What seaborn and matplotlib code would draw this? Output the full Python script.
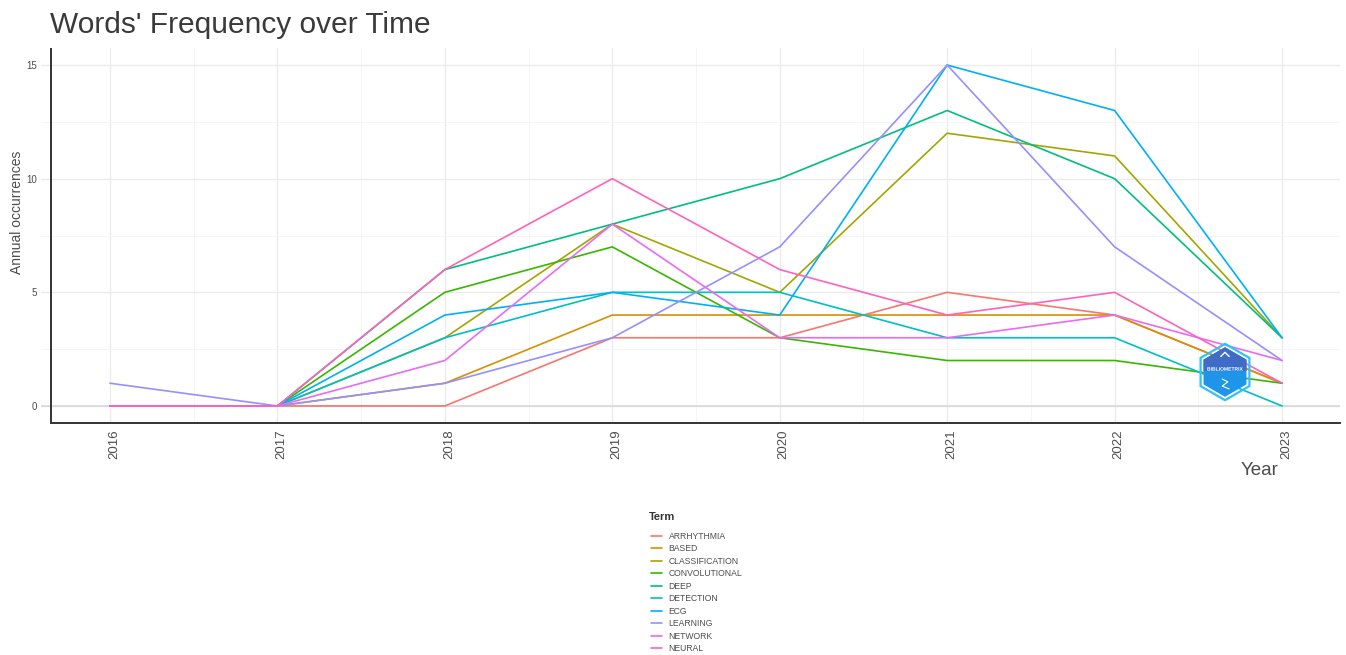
import numpy as np
import pandas as pd
import matplotlib
matplotlib.use("Agg")
import matplotlib.pyplot as plt
import matplotlib.transforms as mtransforms
from matplotlib.patches import RegularPolygon, Rectangle
import matplotlib.patheffects as pe
import seaborn as sns

# Annual occurrences of each term
years = [2016, 2017, 2018, 2019, 2020, 2021, 2022, 2023]
terms = ["ARRHYTHMIA", "BASED", "CLASSIFICATION", "CONVOLUTIONAL", "DEEP",
         "DETECTION", "ECG", "LEARNING", "NETWORK", "NEURAL"]
arrhythmia = [0, 0, 0, 3, 3, 5, 4, 1]
based = [0, 0, 1, 4, 4, 4, 4, 1]
classification = [0, 0, 3, 8, 5, 12, 11, 3]
convolutional = [0, 0, 5, 7, 3, 2, 2, 1]
deep = [0, 0, 6, 8, 10, 13, 10, 3]
detection = [0, 0, 3, 5, 5, 3, 3, 0]
ecg = [0, 0, 4, 5, 4, 15, 13, 3]
learning = [1, 0, 1, 3, 7, 15, 7, 2]
network = [0, 0, 2, 8, 3, 3, 4, 2]
neural = [0, 0, 6, 10, 6, 4, 5, 1]

series = [arrhythmia, based, classification, convolutional, deep,
          detection, ecg, learning, network, neural]
palette = ["#F8766D", "#D89000", "#A3A500", "#39B600", "#00BF7D",
           "#00BFC4", "#00B0F6", "#9590FF", "#E76BF3", "#FF62BC"]

df = pd.DataFrame({
    "Year": np.tile(years, len(terms)),
    "Term": np.repeat(terms, len(years)),
    "Annual occurrences": np.concatenate(series),
})

sns.set_theme(style="white")
plt.rcParams["font.family"] = ["Liberation Sans", "DejaVu Sans"]

W, H = 1346, 655
fig = plt.figure(figsize=(W / 100, H / 100), dpi=100)
fig.patch.set_facecolor("white")

def fx(px):
    return px / W

def fy(py):
    return 1 - py / H

ax = fig.add_axes([fx(41), fy(423), fx(1340) - fx(41), fy(48) - fy(423)])

sns.lineplot(data=df, x="Year", y="Annual occurrences", hue="Term",
             hue_order=terms, palette=palette, linewidth=1.2, ax=ax,
             legend="full", zorder=3)

# grid
ax.set_xticks(years)
ax.set_xticks(np.arange(2015.5, 2023.6, 1.0), minor=True)
ax.set_yticks([0, 5, 10, 15])
ax.set_yticks([2.5, 7.5, 12.5], minor=True)
ax.set_xlim(2015.588, 2023.346)
ax.set_ylim(-0.75, 15.75)
ax.grid(which="major", color="#EBEBEB", linewidth=1.0, zorder=0)
ax.grid(which="minor", color="#F4F4F4", linewidth=0.6, zorder=0)
ax.set_axisbelow(True)
ax.axhline(0, color="#D6D6D6", linewidth=1.1, zorder=1)

ax.tick_params(axis="x", which="major", length=2.6, width=0.9, color="#333333",
               pad=2, labelsize=9.5, labelcolor="#4D4D4D", labelrotation=90)
ax.tick_params(axis="y", which="major", length=2.0, width=0.8, color="#555555",
               pad=1, labelsize=7, labelcolor="#4D4D4D")
ax.tick_params(which="minor", length=0)
ax.set_xticklabels([str(y) for y in years])
shift = mtransforms.ScaledTranslation(4 / 100, 0, fig.dpi_scale_trans)
for lab in ax.get_xticklabels():
    lab.set_transform(lab.get_transform() + shift)

for s in ["top", "right", "left"]:
    ax.spines[s].set_visible(False)
ax.spines["bottom"].set_color("#333333")
ax.spines["bottom"].set_linewidth(1.4)
ax.spines["bottom"].set_bounds(2015.65, 2023.346)
ax.axvline(2015.65, color="#333333", linewidth=1.4, zorder=4)

ax.set_xlabel("")
ax.set_ylabel("")

fig.text(fx(50), fy(33), "Words' Frequency over Time", fontsize=21.5,
         color="#3A3A3A", ha="left", va="baseline")
fig.text(fx(17), fy(212), "Annual occurrences", fontsize=10, rotation=90,
         color="#4D4D4D", ha="center", va="center")
fig.text(fx(1278), fy(475), "Year", fontsize=13.5, color="#4D4D4D",
         ha="right", va="baseline")

# legend below the panel
handles, labels = ax.get_legend_handles_labels()
ax.get_legend().remove()
fig.text(fx(649), fy(517), "Term", fontsize=8, fontweight="bold",
         color="#333333", ha="left", va="center")
leg = fig.legend(handles, labels, loc="upper left",
                 bbox_to_anchor=(fx(651), fy(532)), frameon=False,
                 fontsize=6.2, handlelength=1.25, handletextpad=0.8,
                 labelspacing=0.4, borderpad=0, borderaxespad=0)
for t in leg.get_texts():
    t.set_color("#4D4D4D")
for h in leg.get_lines():
    h.set_linewidth(1.2)

# hexagonal logo badge
lax = fig.add_axes([fx(1195), fy(403), fx(60), fy(341) - fy(403)])
lax.set_xlim(-1.05, 1.05)
lax.set_ylim(-1.1, 1.1)
lax.set_aspect("equal")
lax.axis("off")
inner = RegularPolygon((0, 0), numVertices=6, radius=0.88, orientation=0,
                       facecolor="#1E95E8", edgecolor="none")
lax.add_patch(inner)
top = Rectangle((-1, 0.05), 2, 1.0, facecolor="#3F6CC6", edgecolor="none")
lax.add_patch(top)
top.set_clip_path(inner)
lax.add_patch(RegularPolygon((0, 0), numVertices=6, radius=1.0, orientation=0,
                             facecolor="none", edgecolor="#2EC3F5", linewidth=1.6))
lax.plot([-0.15, 0.0, 0.15], [0.55, 0.7, 0.55], color="white", lw=1.0)
lax.plot([-0.1, 0.1, -0.1, 0.15], [-0.25, -0.35, -0.5, -0.6], color="white", lw=0.8)
lax.text(0, 0.1, "BIBLIOMETRIX", fontsize=3.6, fontweight="bold", color="white",
         ha="center", va="center",
         path_effects=[pe.withStroke(linewidth=0.8, foreground="#2A78D8")])

fig.savefig("out.png", dpi=100, facecolor="white")
